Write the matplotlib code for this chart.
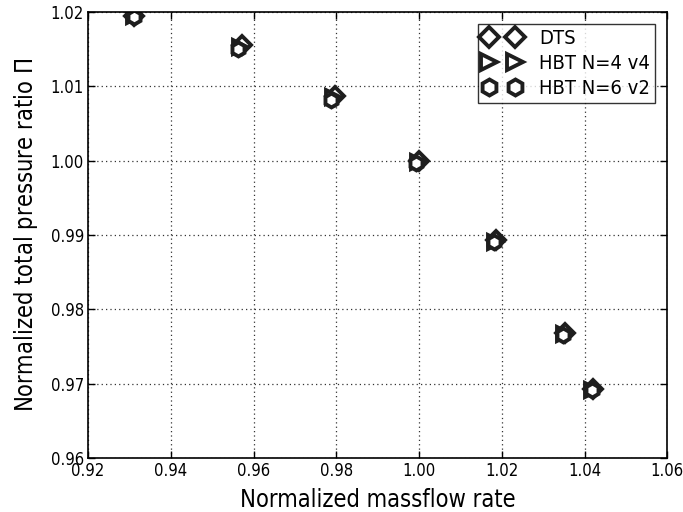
import matplotlib
matplotlib.use('Agg')
import matplotlib.pyplot as plt

# 数据
dts_x = [0.9312, 0.9572, 0.9797, 1.0001, 1.0187, 1.0352, 1.0420]
dts_y = [1.0194, 1.0155, 1.0087, 1.0000, 0.9893, 0.9768, 0.9693]
hbt4_x = [0.9310, 0.9568, 0.9792, 0.9997, 1.0183, 1.0350, 1.0419]
hbt4_y = [1.0194, 1.0153, 1.0085, 0.9998, 0.9891, 0.9767, 0.9692]
hbt6_x = [0.9311, 0.9562, 0.9786, 0.9993, 1.0180, 1.0348, 1.0418]
hbt6_y = [1.0193, 1.0150, 1.0082, 0.9996, 0.9890, 0.9765, 0.9692]

plt.rcParams['font.family'] = ['DejaVu Sans']
plt.rcParams['font.stretch'] = 'condensed'
plt.rcParams['xtick.direction'] = 'in'
plt.rcParams['ytick.direction'] = 'in'

fig = plt.figure(figsize=(6.83, 5.12), dpi=100)
ax = fig.add_axes([0.129, 0.1055, 0.848, 0.8715])

mk = dict(linestyle='none', markerfacecolor='white', markeredgecolor='#1e1e1e',
          markeredgewidth=2.8)
ax.plot(dts_x, dts_y, marker='D', markersize=9, label='DTS', **mk)
ax.plot(hbt4_x, hbt4_y, marker='>', markersize=10, label='HBT N=4 v4', **mk)
ax.plot(hbt6_x, hbt6_y, marker='h', markersize=10, label='HBT N=6 v2', **mk)

ax.set_xlim(0.92, 1.06)
ax.set_ylim(0.96, 1.02)
ax.set_xticks([0.92, 0.94, 0.96, 0.98, 1.00, 1.02, 1.04, 1.06])
ax.set_yticks([0.96, 0.97, 0.98, 0.99, 1.00, 1.01, 1.02])
ax.xaxis.set_major_formatter(matplotlib.ticker.FormatStrFormatter('%.2f'))
ax.yaxis.set_major_formatter(matplotlib.ticker.FormatStrFormatter('%.2f'))
ax.tick_params(labelsize=12, length=5, width=1, top=True, right=True, pad=3)
ax.grid(True, linestyle=(0, (1, 2.5)), color='0.2', linewidth=0.9)
for s in ax.spines.values():
    s.set_linewidth(1.2)

ax.set_xlabel('Normalized massflow rate', fontsize=17, labelpad=6)
ax.set_ylabel(r'Normalized total pressure ratio $\mathrm{\Pi}$', fontsize=17, labelpad=8)

leg = ax.legend(loc='upper right', numpoints=2, fontsize=14.5, fancybox=False,
                handletextpad=0.9, borderpad=0.25, labelspacing=0.3,
                handlelength=1.9, borderaxespad=0.6, markerscale=1.15)
leg.get_frame().set_edgecolor('black')
leg.get_frame().set_linewidth(1)

plt.savefig('out.png', dpi=100)
